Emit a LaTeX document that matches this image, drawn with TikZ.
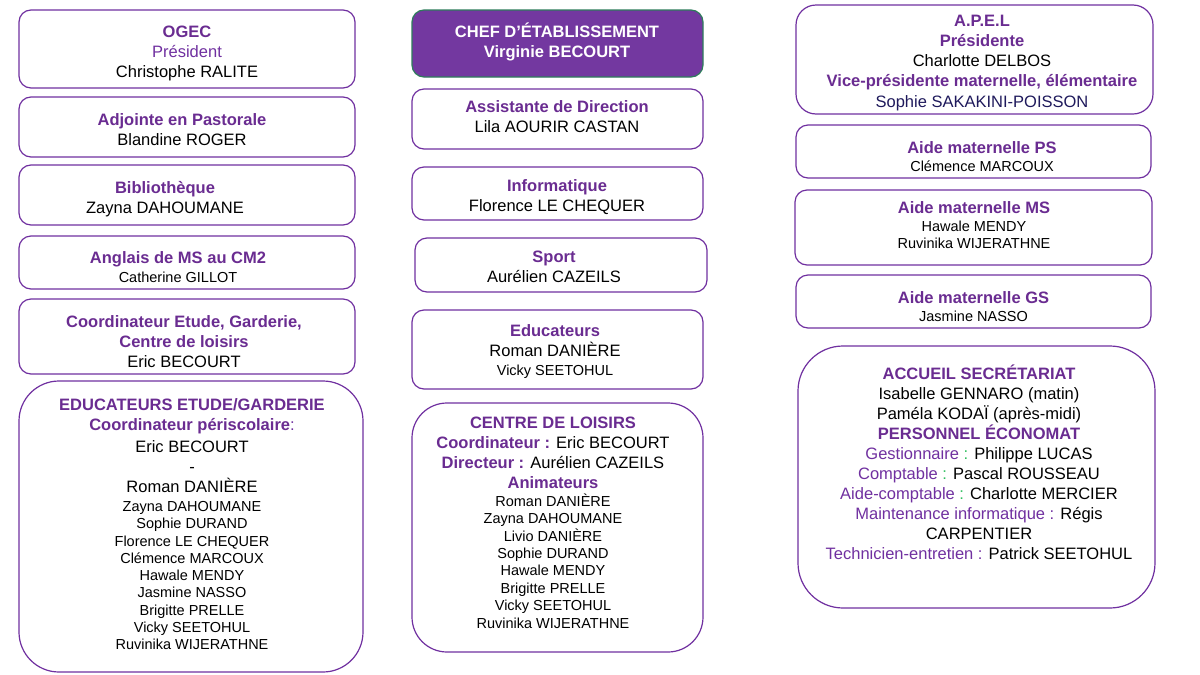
\documentclass[tikz,border=0pt]{standalone}
\usepackage{fontspec}
\setmainfont{Liberation Sans}
\usetikzlibrary{positioning}
\definecolor{boxpurple}{HTML}{7030A0}
\definecolor{titlepurple}{HTML}{6A2C91}
\definecolor{labelpurple}{HTML}{7030A0}
\definecolor{chefpurple}{HTML}{7338A0}
\definecolor{chefgreen}{HTML}{2E7D5B}
\definecolor{navyname}{HTML}{1F1A5C}
\definecolor{colongreen}{HTML}{2EBF5E}
\newcommand{\hd}[1]{{\bfseries\color{titlepurple}#1}}
\newcommand{\lbl}[1]{{\color{labelpurple}#1}}
\newcommand{\sml}{\fontsize{14.5}{17.5}\selectfont}
\tikzset{box/.style={draw=boxpurple, line width=1.2pt, rounded corners=12pt, fill=white, inner sep=0pt}}
\tikzset{bigbox/.style={box, rounded corners=40pt}}
\tikzset{chefbox/.style={box, draw=chefgreen, fill=chefpurple}}
\tikzset{boxsize/.style 2 args={minimum width=#1pt, minimum height=#2pt}}
\tikzset{txt/.style={align=center, inner sep=0pt, font=\fontsize{16.5}{20}\selectfont}}

\begin{document}
\begin{tikzpicture}[x=1pt, y=-1pt]

        \fill[white] (0,0) rectangle (1200,675);
        \useasboundingbox (0,0) rectangle (1200,675);

        % left column
        \node[box, boxsize={336}{78}] (ogec) at (187,49) {};
        \node[box, boxsize={336}{60}] (pastorale) at (187,127) {};
        \node[box, boxsize={336}{60}] (biblio) at (187,195) {};
        \node[box, boxsize={336}{53}] (anglais) at (187,262.5) {};
        \node[box, boxsize={336}{75}] (coord) at (187,336.5) {};
        \node[bigbox, boxsize={344}{291}] (etude) at (191,526.5) {};

        \node[txt] (ogect) at (187,53) {\hd{OGEC}\\ \lbl{Président}\\ Christophe RALITE};
        \node[txt] (pastoralet) at (182,130) {\hd{Adjointe en Pastorale}\\ Blandine ROGER};
        \node[txt] (bibliot) at (165,199.5) {\hd{Bibliothèque}\\ Zayna DAHOUMANE};
        \node[txt] (anglaist) at (178,267.5) {\hd{Anglais de MS au CM2}\\[-1pt] {\sml Catherine GILLOT}};
        \node[txt] (coordt) at (184,342) {\hd{Coordinateur Etude, Garderie,}\\ \hd{Centre de loisirs}\\ Eric BECOURT};
        \node[txt] (etudet) at (192,524.5) {\hd{EDUCATEURS ETUDE/GARDERIE}\\
            \hd{Coordinateur périscolaire}\lbl{:}\\[1.5pt]
            Eric BECOURT\\ -\\ Roman DANIÈRE\\[-1pt]
            {\sml Zayna DAHOUMANE}\\[-2.7pt]
            {\sml Sophie DURAND}\\[-2.7pt]
            {\sml Florence LE CHEQUER}\\[-2.7pt]
            {\sml Clémence MARCOUX}\\[-2.7pt]
            {\sml Hawale MENDY}\\[-2.7pt]
            {\sml Jasmine NASSO}\\[-2.7pt]
            {\sml Brigitte PRELLE}\\[-2.7pt]
            {\sml Vicky SEETOHUL}\\[-2.7pt]
            {\sml Ruvinika WIJERATHNE}};

        % middle column
        \node[chefbox, boxsize={291}{67}] (chef) at (557.5,43.5) {};
        \node[box, boxsize={291}{60}] (assist) at (557.5,119) {};
        \node[box, boxsize={291}{53}] (info) at (557.5,193.5) {};
        \node[box, boxsize={292}{54}] (sport) at (561,265) {};
        \node[box, boxsize={291}{79}] (educ) at (557.5,349.5) {};
        \node[bigbox, boxsize={291}{249}, rounded corners=35pt] (loisirs) at (557.5,527.5) {};

        \node[txt, text=white, font=\fontsize{16.5}{20}\selectfont\bfseries] (cheft) at (557,42) {CHEF D’ÉTABLISSEMENT\\ Virginie BECOURT};
        \node[txt] (assistt) at (557,117) {\hd{Assistante de Direction}\\ Lila AOURIR CASTAN};
        \node[txt] (infot) at (557,197) {\hd{Informatique}\\ Florence LE CHEQUER};
        \node[txt] (sportt) at (554,267) {\hd{Sport}\\ Aurélien CAZEILS};
        \node[txt] (educt) at (555,352) {\hd{Educateurs}\\ Roman DANIÈRE\\[-1pt] {\sml Vicky SEETOHUL}};
        \node[txt] (loisirst) at (553,522.5) {\hd{CENTRE DE LOISIRS}\\
            \hd{Coordinateur :} Eric BECOURT\\
            \hd{Directeur :} Aurélien CAZEILS\\
            \hd{Animateurs}\\[-2pt]
            {\sml Roman DANIÈRE}\\[-2.6pt]
            {\sml Zayna DAHOUMANE}\\[-2.6pt]
            {\sml Livio DANIÈRE}\\[-2.6pt]
            {\sml Sophie DURAND}\\[-2.6pt]
            {\sml Hawale MENDY}\\[-2.6pt]
            {\sml Brigitte PRELLE}\\[-2.6pt]
            {\sml Vicky SEETOHUL}\\[-2.6pt]
            {\sml Ruvinika WIJERATHNE}};

        % right column
        \node[box, boxsize={357}{109}, rounded corners=20pt] (apel) at (974.5,59.5) {};
        \node[box, boxsize={355}{53}] (aideps) at (973.5,151.5) {};
        \node[box, boxsize={357}{75}] (aidems) at (973.5,227.5) {};
        \node[box, boxsize={355}{53}] (aidegs) at (973.5,301.5) {};
        \node[bigbox, boxsize={357}{262}, rounded corners=45pt] (accueil) at (976.5,477) {};

        \node[txt] (apelt) at (982,63.5) {\hd{A.P.E.L}\\ \hd{Présidente}\\ Charlotte DELBOS\\
            \hd{Vice-présidente maternelle, élémentaire}\\[1pt] {\color{navyname}Sophie SAKAKINI-POISSON}};
        \node[txt] (aidepst) at (982,156.5) {\hd{Aide maternelle PS}\\[-2pt] {\sml Clémence MARCOUX}};
        \node[txt] (aidemst) at (974,225) {\hd{Aide maternelle MS}\\[-2pt] {\sml Hawale MENDY}\\[-2.5pt] {\sml Ruvinika WIJERATHNE}};
        \node[txt] (aidegst) at (973.5,307) {\hd{Aide maternelle GS}\\[-2pt] {\sml Jasmine NASSO}};
        \node[txt] (accueilt) at (979,462.5) {\hd{ACCUEIL SECRÉTARIAT}\\
            Isabelle GENNARO (matin)\\
            Paméla KODAÏ (après-midi)\\
            \hd{PERSONNEL ÉCONOMAT}\\
            \lbl{Gestionnaire} {\color{colongreen}:} Philippe LUCAS\\
            \lbl{Comptable} {\color{colongreen}:} Pascal ROUSSEAU\\
            \lbl{Aide-comptable} {\color{colongreen}:} Charlotte MERCIER\\
            \lbl{Maintenance informatique :} Régis\\
            CARPENTIER\\
            \lbl{Technicien-entretien :} Patrick SEETOHUL};

    \end{tikzpicture}
\end{document}
